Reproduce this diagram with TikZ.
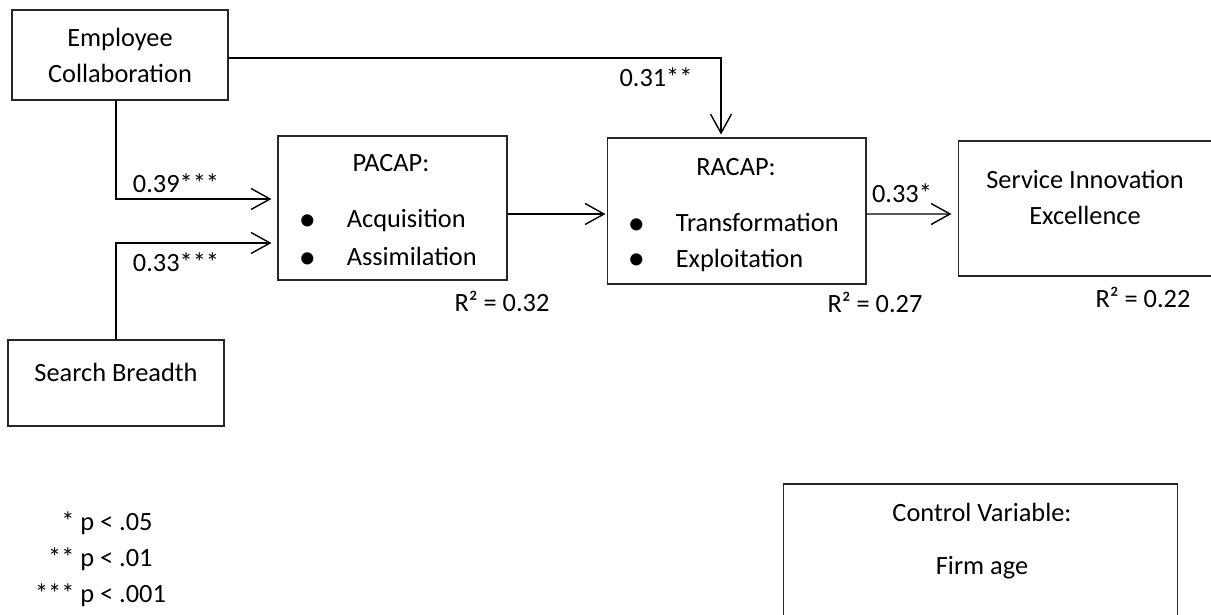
\documentclass[tikz,border=0pt]{standalone}
\usepackage{fontspec}
\setmainfont{Carlito}
\usetikzlibrary{arrows.meta,calc}

\newcommand{\capitem}[1]{\makebox[0.96cm][l]{\raisebox{-0.1em}{\scalebox{1.3}{\textbullet}}}#1}

\begin{document}
\begin{tikzpicture}[x=0.02cm,y=-0.02cm,
  every node/.style={font=\fontsize{15}{20.5}\selectfont},
  box/.style={draw=black!85, line width=0.6pt, inner sep=0pt},
  item/.style={anchor=west, inner sep=0pt},
  conn/.style={draw=black, line width=0.8pt,
    -{Straight Barb[length=3.8mm,width=4.2mm,line width=0.8pt]}}]

\useasboundingbox (0,0) rectangle (1211,615);

\node[box, minimum width=4.32cm, minimum height=1.8cm, align=center] (ec) at (120,55) {Employee\\Collaboration};

\node[box, minimum width=4.32cm, minimum height=1.72cm] (sb) at (116,383) {};
\node (sbtext) at (116,372) {Search Breadth};

\node[box, minimum width=4.58cm, minimum height=2.88cm] (pacap) at (392.5,208) {};
\node (pacaptitle) at (391,163) {PACAP:};
\node[item] (acq) at (298.5,221) {\capitem{Acquisition}};
\node[item] (assim) at (298.5,258) {\capitem{Assimilation}};

\node[box, minimum width=5.18cm, minimum height=2.92cm] (racap) at (736.5,211) {};
\node (racaptitle) at (736,167) {RACAP:};
\node[item] (trans) at (627.5,224) {\capitem{Transformation}};
\node[item] (expl) at (627.5,260) {\capitem{Exploitation}};

\node[box, minimum width=5.08cm, minimum height=2.7cm] (sie) at (1085,208.5) {};
\node[align=center] (sietext) at (1085,197.5) {Service Innovation\\Excellence};

\node[box, minimum width=7.9cm, minimum height=3.12cm] (ctrl) at (980.5,562) {};
\node[align=center] (ctrltext) at (982,541.5) {Control Variable:\\[9.7pt]Firm age};

%\draw [color=black!30] (0,0) grid (1211,615);

\draw[conn] (ec.south -| sb.north) |- ($(pacap.west)+(-6,-9)$);
\draw[conn] (sb.north) |- ($(pacap.west)+(-6,35)$);
\draw[conn] ($(ec.east)+(0,3)$) -| ($(racap.north)+(-15.5,-3)$);
\draw[conn] ($(pacap.east)+(0,6)$) -- ($(racap.west)+(-1,3)$);
\draw[conn] ($(racap.east)+(0,3)$) -- ($(sie.west)+(-6,5.5)$);

\node (b1) at (176,183) {0.39***};
\node (b2) at (176,262) {0.33***};
\node (b3) at (656,77) {0.31**};
\node (b4) at (902,193) {0.33*};

\node (r1) at (502,301) {R² = 0.32};
\node (r2) at (875,302) {R² = 0.27};
\node (r3) at (1143,297) {R² = 0.22};

\node (legend) at (100.5,559) {\begin{tabular}{@{}r@{ }l@{}}
{*} & p < .05\\
{**} & p < .01\\
{***} & p < .001
\end{tabular}};

\end{tikzpicture}
\end{document}
